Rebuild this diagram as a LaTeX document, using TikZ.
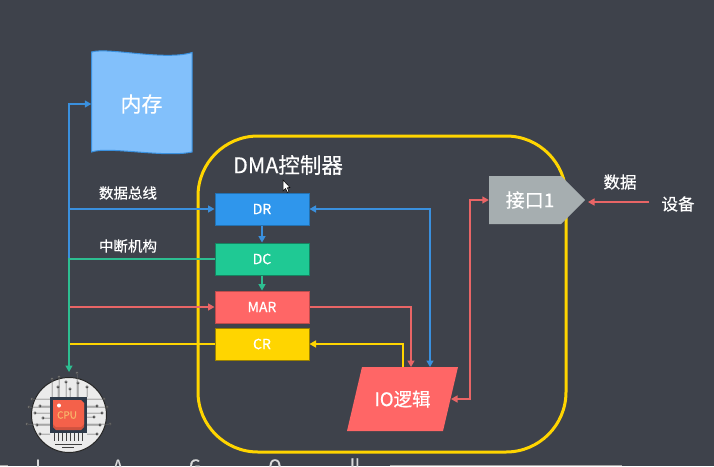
\documentclass[tikz,border=0pt]{standalone}
\usepackage{fontspec}
\setmainfont[RawFeature={embolden=0.45}]{Noto Sans CJK SC}
\usetikzlibrary{arrows.meta}
\definecolor{slatebg}{HTML}{3E424B}
\definecolor{framey}{HTML}{FFD500}
\definecolor{regblue}{HTML}{2F96EC}
\definecolor{lineblue}{HTML}{3A90DE}
\definecolor{reggreen}{HTML}{1FC994}
\definecolor{linegreen}{HTML}{2DBE91}
\definecolor{regred}{HTML}{FF6666}
\definecolor{linered}{HTML}{E96566}
\definecolor{memblue}{HTML}{82C0FB}
\definecolor{portgray}{HTML}{A6AEB0}
\definecolor{chipdark}{HTML}{2E3A4A}
\definecolor{chipred}{HTML}{F4614A}
\definecolor{chiplabel}{HTML}{F8B56A}
\tikzset{
  reg/.style={minimum width=94pt,minimum height=32pt,inner sep=0pt,line width=1pt,text=white,font=\fontsize{14}{14}\selectfont},
  conn/.style={line width=1.4pt},
  word/.style={text=white,inner sep=0pt,font=\fontsize{#1}{#1}\selectfont},
  word/.default=14.5
}
\begin{document}
\begin{tikzpicture}[x=1pt,y=-1pt,>={Triangle[length=6.5pt,width=7pt]}]
  \clip (0,0) rectangle (714,466);
  \fill[slatebg] (0,0) rectangle (714,466);

  % DMA frame
  \node[draw=framey,line width=3pt,rounded corners=60pt,minimum width=368pt,minimum height=316pt] (dma) at (382,294) {};
  \node[word=21.5] (dmatitle) at (288,165) {DMA控制器};

  % Memory sheet
  \draw[fill=memblue,draw=lineblue,line width=1pt] (91.5,52) .. controls (108,47) and (165,61) .. (192,52.5)
    -- (192,152) .. controls (165,158) and (108,146) .. (91.5,152) -- cycle;
  \node[word=21,minimum width=100pt,minimum height=100pt] (mem) at (141.5,104) {内存};

  % Registers
  \node[reg,fill=regblue,draw=regblue!75!black] (dr) at (262,209) {DR};
  \node[reg,fill=reggreen,draw=reggreen!65!black] (dc) at (262,259) {DC};
  \node[reg,fill=regred,draw=regred!75!black] (mar) at (262,307) {MAR};
  \node[reg,fill=framey,draw=framey!60!black] (cr) at (262,344) {CR};

  % IO logic and port
  \fill[regred] (362,367) -- (458,367) -- (443,431) -- (347,431) -- cycle;
  \node[word=18.5,minimum width=96pt,minimum height=64pt] (io) at (402.5,399) {IO逻辑};
  \fill[portgray] (489,176) -- (561,176) -- (585,200) -- (561,224) -- (489,224) -- cycle;
  \node[word=19,minimum width=82pt,minimum height=48pt] (port) at (530,200) {接口1};
  \coordinate (porttip) at (588,202);
  \node[word=16.5] (dev) at (678,204) {设备};
  \node[word=16.5] (devdata) at (620,182) {数据};

  % CPU badge
  \node[circle,draw=black!85,fill=white!92!black,line width=1pt,minimum size=75pt,inner sep=0pt] (cpu) at (69,415) {};
  \foreach \x/\y in {59/377,77/373,52/379,66/382,58/387,70/389,78/383,87/387}
    \draw[black!70,line width=.5pt,fill=white] (\x,397) -- (\x,\y) circle (1.2pt);
  \foreach \x/\y in {32/399,29/407,40/406,35/413,43/418,27/424,37/425,40/434}
    \draw[black!70,line width=.5pt,fill=white] (50,\y) -- (\x,\y) circle (1.2pt);
  \foreach \x/\y in {104/399,107/407,97/406,102/413,94/417,110/424,100/425,97/434}
    \draw[black!70,line width=.5pt,fill=white] (87,\y) -- (\x,\y) circle (1.2pt);
  \foreach \x in {54,58,...,84}
    \draw[black!75,line width=.8pt] (\x,433) -- (\x,441);
  \draw[black!75,line width=.8pt] (55,444) -- (82,444) (62,447) -- (74,447);
  \fill[chipdark] (50,397) rectangle (87,433);
  \fill[chipred!85!black] (53,400) -- (81,400) -- (84,403) -- (84,427) -- (81,430) -- (56,430) -- (53,427) -- cycle;
  \fill[chipred] (53,400) -- (81,400) -- (84,403) -- (84,424) -- (81,427) -- (56,427) -- (53,424) -- cycle;
  \fill[white] (59,405.5) circle (2pt);
  \node[text=chiplabel,inner sep=0pt,font=\fontsize{10}{10}\selectfont] (cpulabel) at (67,415) {CPU};

  % Bus on the left
  \coordinate (trunkred) at (69,307);
  \coordinate (trunkdr) at (69,209);
  \draw[->,conn,lineblue] (trunkdr) |- (mem.west);
  \draw[->,conn,lineblue] (trunkdr) -- (dr.west);
  \draw[conn,lineblue] (trunkdr) -- (69,259);
  \draw[->,conn,linered] (trunkred) -- (mar.west);
  \draw[conn,framey] (cr.west) -- (69,344);
  \draw[->,conn,linegreen,shorten >=5pt] (dc.west) -| (cpu.north);
  \node[word] (busword) at (128,193) {数据总线};
  \node[word] (irqword) at (128,246) {中断机构};

  % Register links
  \draw[->,conn,lineblue] (dr.south) -- (dc.north);
  \draw[->,conn,linegreen] (dc.south) -- (mar.north);
  \coordinate (iomar) at (411,367);
  \coordinate (iocr) at (403,367);
  \coordinate (iodr) at (430,367);
  \coordinate (ioport) at (451,399);
  \draw[->,conn,linered] (mar.east) -| (iomar);
  \draw[->,conn,framey] (iocr) |- (cr.east);
  \draw[<->,conn,lineblue] (dr.east) -| (iodr);
  \draw[<->,conn,linered] (port.west) -| (470,399) -- (ioport);
  \draw[->,conn,linered] (dev.west) ++(-12,-2) -- (porttip);

  % Pointer
  \draw[fill=white,draw=black,line width=.5pt] (283,180) -- (283,191) -- (285.5,188.5) -- (287.5,192.5) -- (289,191.5) -- (287.2,187.8) -- (290,187.5) -- cycle;

  % Cut off strip at the bottom
  \foreach \x/\t in {38/I,85//,118/A,165//,195/G,245//,275/O,325//,355/ll}
    \node[text=white!85!black,inner sep=0pt,font=\fontsize{17}{17}\selectfont,anchor=base] (strip\x) at (\x,472) {\t};
  \draw[white!65!black,line width=1pt] (390,465.5) -- (622,465.5);
  \draw[white!65!black,line width=1pt] (0,465.5) -- (8,465.5);
\end{tikzpicture}
\end{document}
